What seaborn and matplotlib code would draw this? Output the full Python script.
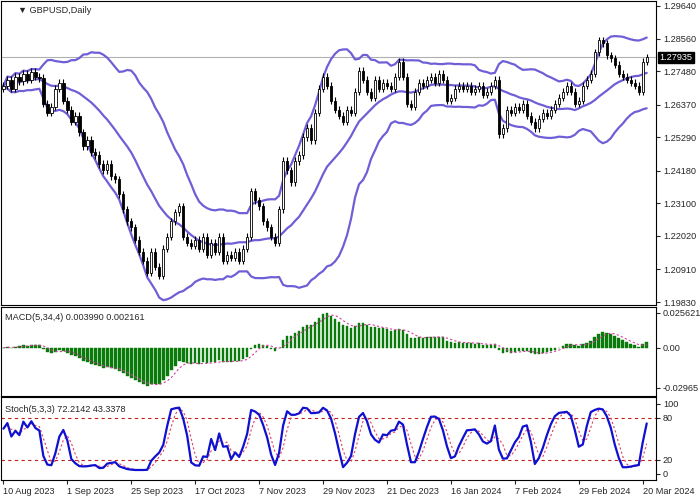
import numpy as np
import pandas as pd
import matplotlib
matplotlib.use("Agg")
import matplotlib.pyplot as plt
import seaborn as sns

first_open = 1.2690
closes = [
    1.2700,1.2720,1.2690,1.2730,1.2715,1.2740,1.2720,1.2745,1.2730,1.2725,1.2640,1.2610,1.2630,1.2690,1.2710,1.2650,
    1.2620,1.2580,1.2600,1.2545,1.2500,1.2520,1.2480,1.2470,1.2440,1.2420,1.2440,1.2400,1.2390,1.2340,1.2290,1.2250,
    1.2230,1.2190,1.2150,1.2120,1.2080,1.2150,1.2100,1.2070,1.2160,1.2200,1.2250,1.2280,1.2300,1.2200,1.2180,1.2170,
    1.2190,1.2160,1.2200,1.2140,1.2180,1.2150,1.2200,1.2120,1.2140,1.2130,1.2150,1.2120,1.2160,1.2200,1.2350,1.2320,
    1.2300,1.2250,1.2230,1.2200,1.2180,1.2290,1.2450,1.2420,1.2380,1.2450,1.2470,1.2530,1.2560,1.2520,1.2610,1.2690,
    1.2730,1.2700,1.2650,1.2620,1.2600,1.2580,1.2620,1.2610,1.2680,1.2750,1.2720,1.2680,1.2660,1.2720,1.2690,1.2710,
    1.2700,1.2690,1.2730,1.2780,1.2730,1.2640,1.2630,1.2680,1.2710,1.2700,1.2720,1.2730,1.2710,1.2740,1.2720,1.2650,
    1.2660,1.2690,1.2700,1.2690,1.2700,1.2680,1.2690,1.2700,1.2670,1.2680,1.2700,1.2720,1.2540,1.2560,1.2620,1.2610,
    1.2630,1.2620,1.2640,1.2600,1.2580,1.2560,1.2590,1.2610,1.2600,1.2620,1.2640,1.2660,1.2680,1.2700,1.2680,1.2640,
    1.2650,1.2700,1.2720,1.2740,1.2810,1.2850,1.2840,1.2800,1.2790,1.2770,1.2740,1.2730,1.2720,1.2710,1.2700,1.2680,1.2780,1.27935,
]
wick = 0.0012
date_labels = ["10 Aug 2023","1 Sep 2023","25 Sep 2023","17 Oct 2023","7 Nov 2023","29 Nov 2023",
               "21 Dec 2023","16 Jan 2024","7 Feb 2024","29 Feb 2024","20 Mar 2024"]
price_ticks = [1.29640,1.28560,1.27480,1.26370,1.25290,1.24180,1.23100,1.22020,1.20910,1.19830]
last_price = 1.27935

n = len(closes)
c = pd.Series(closes)
o = pd.Series([first_open] + closes[:-1])
h = np.maximum(o, c) + wick
l = np.minimum(o, c) - wick
idx = np.arange(n)

mid = c.rolling(20, min_periods=1).mean()
sd = c.rolling(20, min_periods=1).std(ddof=0).fillna(0)
up, lo = mid + 2*sd, mid - 2*sd

macd = c.ewm(span=5, adjust=False).mean() - c.ewm(span=34, adjust=False).mean()
sig = macd.rolling(4, min_periods=1).mean()

hh = h.rolling(5, min_periods=1).max(); ll = l.rolling(5, min_periods=1).min()
k = 100*(c-ll).rolling(3, min_periods=1).sum()/(hh-ll).rolling(3, min_periods=1).sum()
d = k.rolling(3, min_periods=1).mean()

sns.set_style("white")
plt.rcParams['font.family'] = ['Liberation Sans', 'DejaVu Sans']
FS = 6.6
fig = plt.figure(figsize=(7, 5), dpi=100)
L, W = 0.002, 0.935
ax1 = fig.add_axes([L, 0.39, W, 0.608])
ax2 = fig.add_axes([L, 0.208, W, 0.178], sharex=ax1)
ax3 = fig.add_axes([L, 0.04, W, 0.166], sharex=ax1)
band = "#6f5fd6"

ax1.axhline(last_price, color="#b0b0b0", lw=0.8)
for y_ in (up, mid, lo):
    sns.lineplot(x=idx, y=y_.values, ax=ax1, color=band, lw=1.6)
ax1.vlines(idx, l, h, color="black", lw=0.8, zorder=3)
upc = (c >= o).values
ax1.bar(idx, (c-o).abs().clip(lower=0.0002), bottom=np.minimum(o, c), width=0.6,
        color=np.where(upc, "white", "black"), edgecolor="black", lw=0.6, zorder=4)
ax1.set_ylim(1.19731, 1.29805)
ax1.set_yticks(price_ticks)
ax1.set_yticklabels([f"{v:.5f}" for v in price_ticks])
ax1.text(0.025, 0.985, "\u25bc GBPUSD,Daily", transform=ax1.transAxes, fontsize=FS, va="top")
ax1.text(1.006, last_price, f"{last_price:.5f}", transform=ax1.get_yaxis_transform(), fontsize=FS,
         va="center", ha="left", color="white", bbox=dict(boxstyle="square,pad=0.15", fc="black", ec="black"))

ax2.bar(idx, macd, width=0.65, color="#0a7a0a", edgecolor="#0a7a0a", lw=0.3)
sns.lineplot(x=idx, y=sig.values, ax=ax2, color="#d040a0", lw=0.8, linestyle=(0, (2, 2)))
ax2.set_ylim(-0.0356, 0.0300)
ax2.set_yticks([0.025621, 0.0, -0.02965])
ax2.set_yticklabels(["0.025621", "0.00", "-0.02965"])
ax2.text(0.005, 0.93, f"MACD(5,34,4) {macd.iloc[-1]:.6f} {sig.iloc[-1]:.6f}", transform=ax2.transAxes, fontsize=FS, va="top")

for lvl in (20, 80):
    ax3.axhline(lvl, color="#c02020", lw=0.8, ls=(0, (3, 3)))
sns.lineplot(x=idx, y=d.values, ax=ax3, color="#e04060", lw=0.8, linestyle=(0, (2, 2)))
sns.lineplot(x=idx, y=k.values, ax=ax3, color="#1010d0", lw=1.6)
ax3.set_ylim(-8.6, 110)
ax3.set_yticks([100, 80, 20, 0])
ax3.text(0.005, 0.9, f"Stoch(5,3,3) {k.iloc[-1]:.4f} {d.iloc[-1]:.4f}", transform=ax3.transAxes, fontsize=FS, va="top")

for ax in (ax1, ax2, ax3):
    ax.yaxis.tick_right()
    ax.tick_params(axis="y", labelsize=FS, length=3, direction="out", right=True, pad=2)
    ax.tick_params(axis="x", labelsize=FS, length=3, direction="out", bottom=True, pad=2)
    ax.set_ylabel(""); ax.set_xlabel("")
    for s in ax.spines.values():
        s.set_color("black"); s.set_linewidth(0.8)
ax1.set_xlim(-0.5, 163.3)
ax3.set_xticks(np.arange(0, 161, 16))
ax3.set_xticklabels(date_labels)
for t in ax3.get_xticklabels():
    t.set_ha("left")
plt.setp(ax1.get_xticklabels(), visible=False)
plt.setp(ax2.get_xticklabels(), visible=False)
ax1.tick_params(axis="x", bottom=False); ax2.tick_params(axis="x", bottom=False)
fig.savefig("out.png", dpi=100)
